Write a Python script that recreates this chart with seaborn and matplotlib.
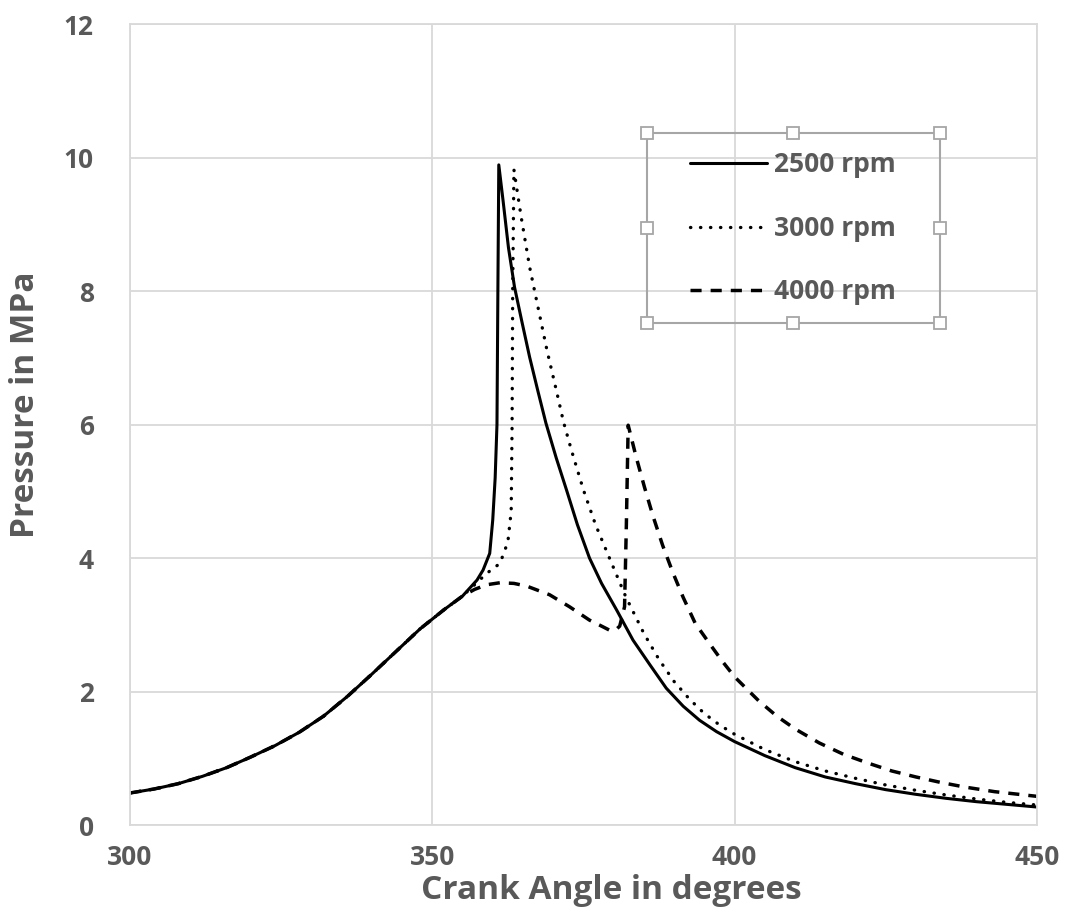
import numpy as np
import pandas as pd
import matplotlib
matplotlib.use("Agg")
import matplotlib.pyplot as plt
import seaborn as sns
from matplotlib.patches import Rectangle

# ─────────────────────────────────────────────
# DATA
# ─────────────────────────────────────────────
angle_2500 = [300, 304, 308, 312, 316, 320, 324, 328, 332, 336, 340, 344, 348, 352, 355,
              356.2, 357.4, 358.4, 359.5, 360.0, 360.4, 360.7, 360.85, 361.0, 361.7, 362.6,
              363.6, 364.8, 366.1, 367.5, 368.8, 370.5, 372.2, 374.0, 376.0, 378.0,
              380.5, 383.2, 386.0, 388.7, 391.5, 394.2, 397.0, 400.0, 405.0, 410.0,
              415.0, 420.0, 425.0, 430.0, 435.0, 440.0, 445.0, 450.0]
press_2500 = [0.48, 0.54, 0.62, 0.73, 0.86, 1.02, 1.19, 1.39, 1.63, 1.93, 2.26, 2.60, 2.94, 3.23, 3.43,
              3.55, 3.67, 3.82, 4.07, 4.57, 5.20, 6.00, 8.00, 9.89, 9.36, 8.65,
              8.06, 7.55, 7.01, 6.49, 6.02, 5.50, 5.02, 4.50, 4.00, 3.62,
              3.22, 2.77, 2.40, 2.05, 1.78, 1.57, 1.40, 1.25, 1.04, 0.86,
              0.72, 0.62, 0.53, 0.46, 0.40, 0.35, 0.31, 0.27]

angle_3000 = [300, 304, 308, 312, 316, 320, 324, 328, 332, 336, 340, 344, 348, 352, 355,
              357, 359, 361.2, 362.5, 363.05, 363.2, 363.3, 363.5, 364.7, 366.1, 367.5,
              369.0, 370.5, 371.7, 373.0, 375.0, 377.0, 379.3, 382.0, 385.0, 387.5,
              390.0, 392.5, 395.0, 397.5, 400.0, 405.0, 410.0, 415.0, 420.0, 425.0,
              430.0, 435.0, 440.0, 445.0, 450.0]
press_3000 = [0.48, 0.54, 0.62, 0.73, 0.86, 1.02, 1.19, 1.39, 1.63, 1.93, 2.26, 2.60, 2.94, 3.23, 3.43,
              3.60, 3.77, 3.92, 4.24, 4.70, 6.00, 8.00, 9.82, 9.11, 8.36, 7.75,
              7.10, 6.52, 6.04, 5.62, 5.02, 4.50, 4.00, 3.42, 2.87, 2.48,
              2.15, 1.89, 1.67, 1.50, 1.36, 1.13, 0.95, 0.81, 0.70, 0.60,
              0.52, 0.45, 0.39, 0.34, 0.30]

angle_4000 = [300, 304, 308, 312, 316, 320, 324, 328, 332, 336, 340, 344, 348, 352, 355,
              357, 359, 361.2, 363.5, 365.6, 369.4, 372.7, 376.0, 378.0, 379.3, 380.3,
              381.0, 381.8, 382.1, 382.4, 383.7, 385.1, 386.5, 388.1, 389.8, 391.5,
              393.5, 396.0, 398.0, 400.0, 404.0, 407.0, 410.0, 414.0, 418.0, 422.0,
              426.0, 430.0, 434.0, 438.0, 443.0, 450.0]
press_4000 = [0.48, 0.54, 0.62, 0.73, 0.86, 1.02, 1.19, 1.39, 1.63, 1.93, 2.26, 2.60, 2.94, 3.23, 3.43,
              3.53, 3.60, 3.63, 3.62, 3.58, 3.45, 3.27, 3.07, 2.98, 2.92, 2.92,
              2.98, 3.27, 4.50, 5.99, 5.52, 5.06, 4.63, 4.19, 3.78, 3.41,
              3.02, 2.70, 2.45, 2.22, 1.86, 1.63, 1.44, 1.23, 1.06, 0.93,
              0.81, 0.72, 0.64, 0.57, 0.50, 0.43]

labels = ["2500 rpm", "3000 rpm", "4000 rpm"]
x_ticks = [300, 350, 400, 450]
y_ticks = [0, 2, 4, 6, 8, 10, 12]

# ─────────────────────────────────────────────
# STYLE
# ─────────────────────────────────────────────
sns.set_theme(style="white")
plt.rcParams['font.family'] = ['Open Sans', 'DejaVu Sans']
TXT = '#595959'
GRID = '#d9d9d9'

fig = plt.figure(figsize=(10.67, 9.24), dpi=100)
ax = fig.add_axes([0.1218, 0.1071, 0.8500, 0.8669])

series = [
    (angle_2500, press_2500, labels[0], dict(linestyle='-', linewidth=2.2)),
    (angle_3000, press_3000, labels[1], dict(linestyle=(0, (0.1, 2.9)), linewidth=2.4,
                                             dash_capstyle='round')),
    (angle_4000, press_4000, labels[2], dict(linestyle=(0, (3.2, 2.6)), linewidth=2.5)),
]
for xs, ys, lab, kw in series:
    df = pd.DataFrame({"angle": xs, "pressure": ys})
    sns.lineplot(data=df, x="angle", y="pressure", ax=ax, color='black',
                 label=lab, sort=False, estimator=None, **kw)

ax.set_xlim(300, 450)
ax.set_ylim(0, 12)
ax.set_xticks(x_ticks)
ax.set_yticks(y_ticks)
ax.grid(True, color=GRID, linewidth=1.3)
ax.set_axisbelow(True)
for s in ax.spines.values():
    s.set_color(GRID)
    s.set_linewidth(1.3)

ax.tick_params(axis='both', length=0, labelsize=19, labelcolor=TXT)
ax.tick_params(axis='x', pad=14)
ax.tick_params(axis='y', pad=26)
for t in ax.get_xticklabels() + ax.get_yticklabels():
    t.set_fontweight('bold')

ax.set_xlabel("Crank Angle in degrees", fontsize=24, fontweight='bold', color=TXT)
ax.set_ylabel("Pressure in MPa", fontsize=24, fontweight='bold', color=TXT)
ax.xaxis.set_label_coords(0.531, -0.061)
ax.yaxis.set_label_coords(-0.097, 0.525)

# legend with the selection-style frame
leg = ax.legend(loc='center', bbox_to_anchor=(0.731, 0.745), frameon=False,
                handlelength=2.9, handletextpad=0.26, labelspacing=1.39,
                prop=dict(size=19, weight='bold'))
for t in leg.get_texts():
    t.set_color(TXT)

x0, x1 = 0.570, 0.893
y0, y1 = 0.627, 0.864
ax.add_patch(Rectangle((x0, y0), x1 - x0, y1 - y0, transform=ax.transAxes,
                       fill=False, edgecolor='#a6a6a6', linewidth=1.5, zorder=5))
hx = [x0, (x0 + x1) / 2, x1, x0, x1, x0, (x0 + x1) / 2, x1]
hy = [y1, y1, y1, (y0 + y1) / 2, (y0 + y1) / 2, y0, y0, y0]
ax.plot(hx, hy, linestyle='none', marker='s', markersize=8, markerfacecolor='white',
        markeredgecolor='#a6a6a6', markeredgewidth=1.3, transform=ax.transAxes,
        clip_on=False, zorder=6)

fig.savefig("out.png", dpi=100)
